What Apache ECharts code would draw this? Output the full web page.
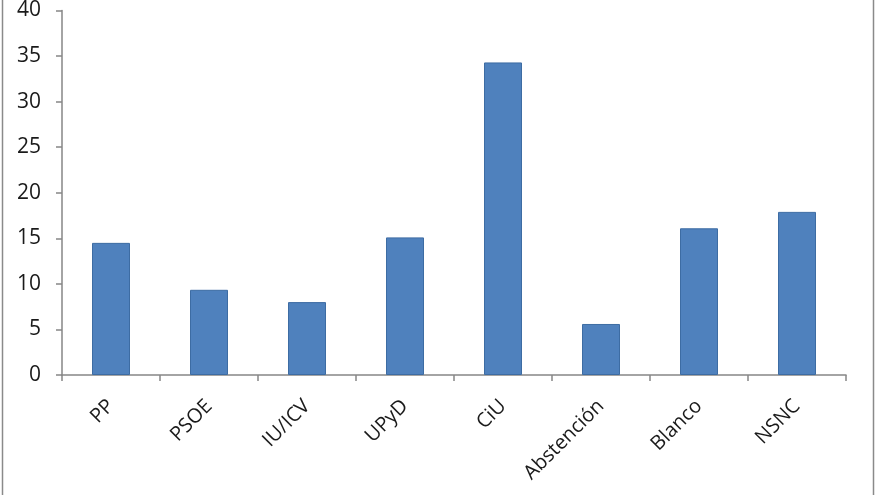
<!DOCTYPE html>
<html><head><meta charset="utf-8">
<script src="https://cdn.jsdelivr.net/npm/echarts@6/dist/echarts.min.js"></script>
<style>html,body{margin:0;padding:0;background:#fff}#c{width:880px;height:495px}</style>
</head><body><div id="c"></div>
<script>
const categories = ['PP','PSOE','IU/ICV','UPyD','CiU','Abstención','Blanco','NSNC'];
const values = [14.5, 9.35, 8.0, 15.1, 34.3, 5.6, 16.1, 17.9];
const yTicks = [0,5,10,15,20,25,30,35,40];

const chart = echarts.init(document.getElementById('c'));
chart.setOption({
  animation: false,
  backgroundColor: '#fff',
  grid: {left: 62, right: 34, top: 7.5, bottom: 120},
  graphic: [
    {type:'line', shape:{x1:2.5,y1:0,x2:2.5,y2:495}, style:{stroke:'#8a8a8a', lineWidth:1.5}},
    {type:'line', shape:{x1:873.5,y1:0,x2:873.5,y2:495}, style:{stroke:'#8a8a8a', lineWidth:1.5}}
  ],
  xAxis: {
    type: 'category', data: categories, boundaryGap: true,
    axisLine: {lineStyle:{color:'#868686', width:1.5}},
    axisTick: {show:true, length:6, lineStyle:{color:'#868686', width:1.5}},
    axisLabel: {rotate:45, fontSize:20, color:'#1a1a1a', fontFamily:'Open Sans', margin:28, interval:0}
  },
  yAxis: {
    type: 'value', min: yTicks[0], max: yTicks[yTicks.length-1], interval: 5,
    axisLine: {show:true, lineStyle:{color:'#868686', width:1.5}},
    axisTick: {show:true, length:6, lineStyle:{color:'#868686', width:1.5}},
    splitLine: {show:false},
    axisLabel: {fontSize:21, color:'#1a1a1a', fontFamily:'Open Sans', margin:21}
  },
  series: [{
    type: 'bar', data: values, barWidth: 38,
    itemStyle: {color:'#4F81BD', borderColor:'#3d6ca3', borderWidth:1}
  }]
});
</script></body></html>
